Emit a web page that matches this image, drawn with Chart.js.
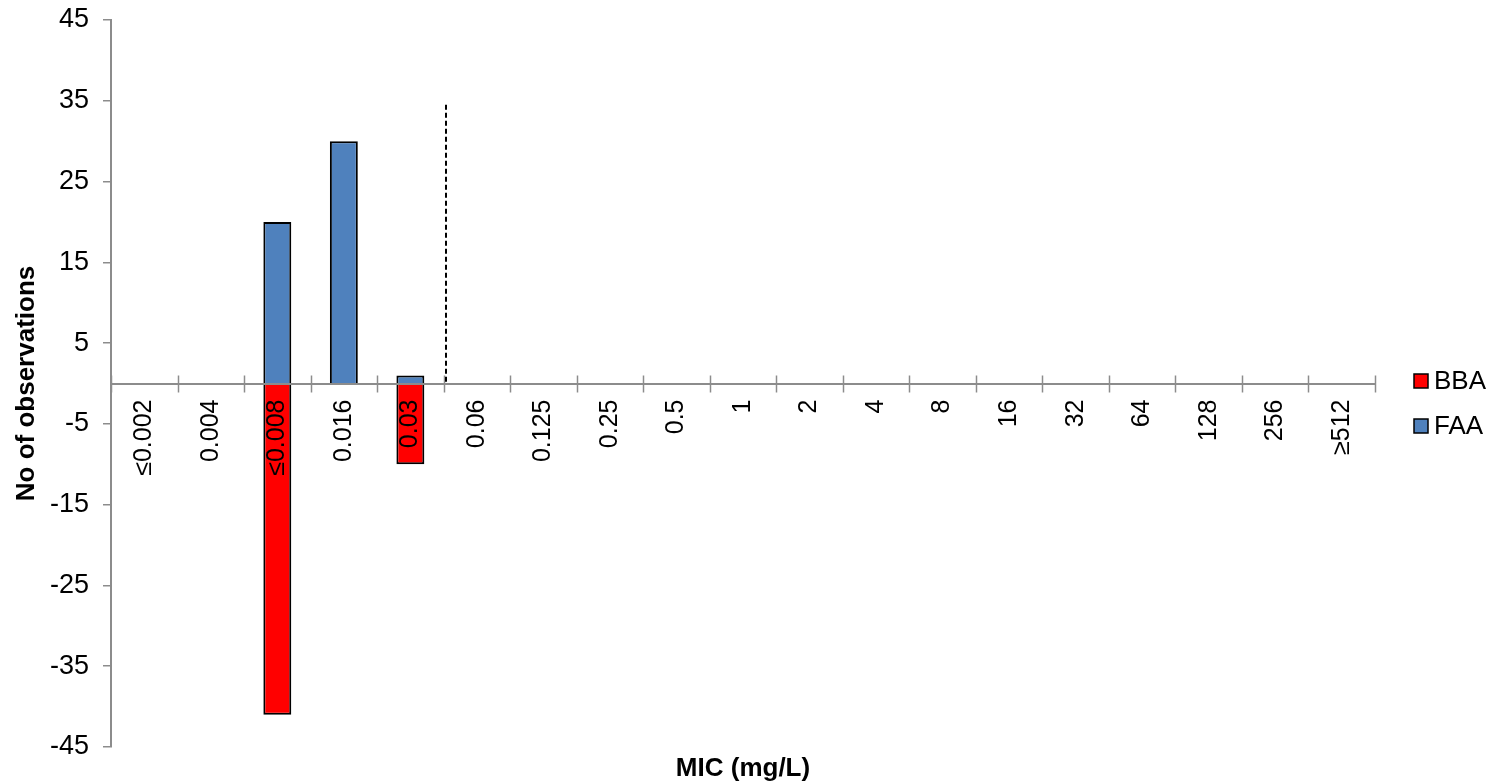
<!DOCTYPE html>
<html>
<head>
<meta charset="utf-8">
<script src="https://cdn.jsdelivr.net/npm/chart.js@4/dist/chart.umd.min.js"></script>
<style>
  html, body { margin: 0; padding: 0; background: #ffffff; }
  #wrap { width: 1499px; height: 784px; }
</style>
</head>
<body>
<div id="wrap"><canvas id="mic"></canvas></div>
<script>
// MIC categories (mg/L)
const micLabels = ['≤0.002', '0.004', '≤0.008', '0.016', '0.03', '0.06', '0.125', '0.25', '0.5',
                   '1', '2', '4', '8', '16', '32', '64', '128', '256', '≥512'];

// Counts per MIC; BBA plotted below the axis, FAA above
const bbaCounts = [0, 0, -41, 0, -10, 0, 0, 0, 0, 0, 0, 0, 0, 0, 0, 0, 0, 0, 0];
const faaCounts = [0, 0, 20, 30, 1, 0, 0, 0, 0, 0, 0, 0, 0, 0, 0, 0, 0, 0, 0];

// Y axis tick values
const yTickValues = [-45, -35, -25, -15, -5, 5, 15, 25, 35, 45];

// Breakpoint marker: sits between these two categories, up to this height
const breakpointBetween = ['0.03', '0.06'];
const breakpointTop = 34.5;

const seriesNames = ['BBA', 'FAA'];
const seriesColors = ['#ff0000', '#4f81bd'];

const FONT = '"Liberation Sans", Arial, sans-serif';
const AXIS_GREY = '#8c8c8c';

// Tick marks crossing the x axis at each category boundary, plus the dashed breakpoint line
const xAxisDecor = {
  id: 'xAxisDecor',
  afterDatasetsDraw(chart) {
    const ctx = chart.ctx;
    const x = chart.scales.x, y = chart.scales.y;
    const y0 = y.getPixelForValue(0);
    ctx.save();
    ctx.strokeStyle = AXIS_GREY;
    ctx.lineWidth = 1.5;
    for (let i = 0; i <= micLabels.length; i++) {
      const px = Math.round(x.getPixelForValue(i - 0.5)) + 0.5;
      ctx.beginPath();
      ctx.moveTo(px, y0 - 8);
      ctx.lineTo(px, y0 + 9);
      ctx.stroke();
    }
    const i0 = micLabels.indexOf(breakpointBetween[0]);
    const i1 = micLabels.indexOf(breakpointBetween[1]);
    const bx = Math.round(x.getPixelForValue((i0 + i1) / 2)) + 2;
    ctx.strokeStyle = '#000000';
    ctx.lineWidth = 2;
    ctx.setLineDash([5, 3]);
    ctx.beginPath();
    ctx.moveTo(bx, y.getPixelForValue(breakpointTop));
    ctx.lineTo(bx, y0);
    ctx.stroke();
    ctx.restore();
  }
};

// X axis title under the plot, and the legend to the right
const titleAndLegend = {
  id: 'titleAndLegend',
  afterDraw(chart) {
    const ctx = chart.ctx;
    const area = chart.chartArea;
    ctx.save();
    ctx.fillStyle = '#000000';
    ctx.font = 'bold 26px ' + FONT;
    ctx.textAlign = 'center';
    ctx.textBaseline = 'middle';
    ctx.fillText('MIC (mg/L)', (area.left + area.right) / 2, area.bottom + 22);

    const y0 = chart.scales.y.getPixelForValue(0);
    const lx = area.right + 39;
    ctx.font = '26px ' + FONT;
    ctx.textAlign = 'left';
    chart.data.datasets.forEach((ds, k) => {
      const cy = Math.round(y0 - 3 + k * 45);
      ctx.fillStyle = ds.backgroundColor;
      ctx.fillRect(lx, cy - 7, 14, 14);
      ctx.strokeStyle = '#000000';
      ctx.lineWidth = 1.5;
      ctx.strokeRect(lx, cy - 7, 14, 14);
      ctx.fillStyle = '#000000';
      ctx.fillText(ds.label, lx + 20, cy + 1);
    });
    ctx.restore();
  }
};

new Chart(document.getElementById('mic'), {
  type: 'bar',
  data: {
    labels: micLabels,
    datasets: [
      { label: seriesNames[0], data: bbaCounts, backgroundColor: seriesColors[0] },
      { label: seriesNames[1], data: faaCounts, backgroundColor: seriesColors[1] }
    ]
  },
  options: {
    responsive: true,
    maintainAspectRatio: false,
    animation: false,
    devicePixelRatio: 1,
    layout: { padding: { top: 20, bottom: 37, left: 0, right: 124 } },
    datasets: {
      bar: {
        borderColor: '#000000',
        borderWidth: 2,
        categoryPercentage: 1,
        barPercentage: 0.42
      }
    },
    plugins: {
      legend: { display: false },
      tooltip: { enabled: false }
    },
    scales: {
      x: {
        stacked: true,
        position: { y: 0 },
        afterFit(scale) { scale.paddingTop = 0; scale.paddingBottom = 0; },
        grid: { display: false, drawTicks: false, offset: true },
        border: { display: true, color: AXIS_GREY, width: 2, z: 1 },
        ticks: {
          z: 1,
          autoSkip: false,
          maxRotation: 90,
          minRotation: 90,
          padding: 16,
          color: '#000000',
          font: { family: FONT, size: 25 }
        }
      },
      y: {
        stacked: true,
        min: -45,
        max: 45,
        afterBuildTicks(scale) { scale.ticks = yTickValues.map(v => ({ value: v })); },
        afterFit(scale) { scale.width = 111; scale.paddingTop = 0; scale.paddingBottom = 0; },
        grid: {
          display: true,
          drawOnChartArea: false,
          drawTicks: true,
          tickLength: 8,
          color: AXIS_GREY,
          lineWidth: 1.5
        },
        border: { display: true, color: AXIS_GREY, width: 2 },
        ticks: {
          padding: 14,
          color: '#000000',
          font: { family: FONT, size: 27 }
        },
        title: {
          display: true,
          text: 'No of observations',
          color: '#000000',
          font: { family: FONT, size: 26, weight: 'bold' },
          padding: { top: 11, bottom: 0 }
        }
      }
    }
  },
  plugins: [xAxisDecor, titleAndLegend]
});
</script>
</body>
</html>
